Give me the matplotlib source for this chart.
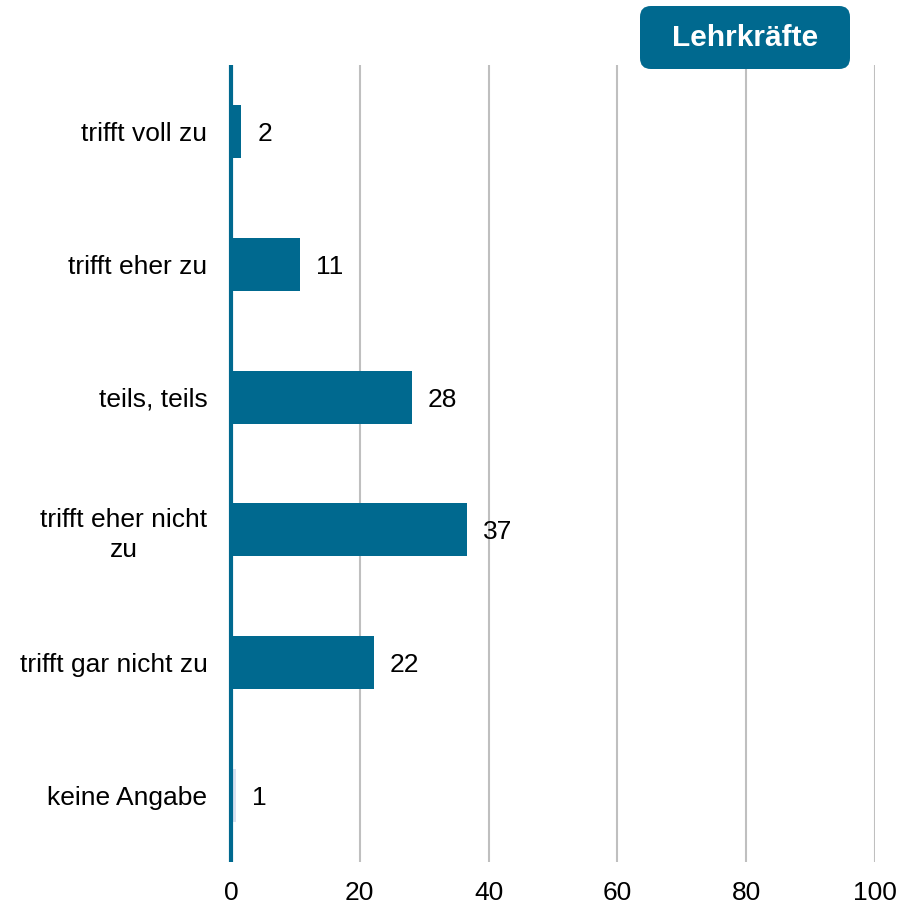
import matplotlib
matplotlib.use("Agg")
import matplotlib.pyplot as plt
from matplotlib.patches import FancyBboxPatch

plt.rcParams['font.family'] = ['Liberation Sans', 'DejaVu Sans']

categories = ["trifft voll zu", "trifft eher zu", "teils, teils",
              "trifft eher nicht\nzu", "trifft gar nicht zu", "keine Angabe"]
bar_values = [1.6, 10.7, 28.1, 36.6, 22.2, 0.8]
label_values = ["2", "11", "28", "37", "22", "1"]
xticks = [0, 20, 40, 60, 80, 100]
title_box = "Lehrkräfte"

blue = "#00698f"
light = "#dae1f0"
colors = [blue] * 5 + [light]
fs = 19

fig = plt.figure(figsize=(9, 9.11), dpi=100)
ax = fig.add_axes([231/900, 1 - 862/911, (875 - 231)/900, (862 - 65)/911])

y = list(range(len(categories)))
ax.barh(y, bar_values, height=0.4, color=colors, zorder=3)
for yi, v, lab in zip(y, bar_values, label_values):
    ax.annotate(lab, (v, yi), xytext=(11.5, 0), textcoords="offset points",
                va="center_baseline", ha="left", fontsize=fs, color="black")

ax.set_xlim(0, 100)
ax.set_ylim(len(categories) - 0.5, -0.5)
ax.set_xticks(xticks)
ax.set_xticklabels([str(t) for t in xticks], fontsize=fs)
ax.set_yticks(y)
ax.set_yticklabels(categories, fontsize=fs, multialignment="center", linespacing=1.3)
ax.tick_params(axis="both", length=0)
ax.tick_params(axis="y", pad=17)
ax.tick_params(axis="x", pad=14)

for xv in xticks[1:]:
    ax.axvline(xv, color="#bfbfbf", lw=1.5, zorder=1)

for s in ["top", "right", "bottom"]:
    ax.spines[s].set_visible(False)
ax.spines["left"].set_color(blue)
ax.spines["left"].set_linewidth(3)
ax.spines["left"].set_capstyle("butt")
ax.spines["left"].set_zorder(4)

# title box
bx0, by0, bw, bh = 640/900, 1 - 69/911, 210/900, 63/911
box = FancyBboxPatch((bx0, by0), bw, bh, boxstyle="round,pad=0,rounding_size=0.012",
                     transform=fig.transFigure, facecolor=blue, edgecolor="none")
fig.patches.append(box)
fig.text(bx0 + bw/2, by0 + bh/2, title_box, ha="center", va="center",
         color="white", fontsize=21.5, fontweight="bold")

fig.savefig("out.png", dpi=100)
